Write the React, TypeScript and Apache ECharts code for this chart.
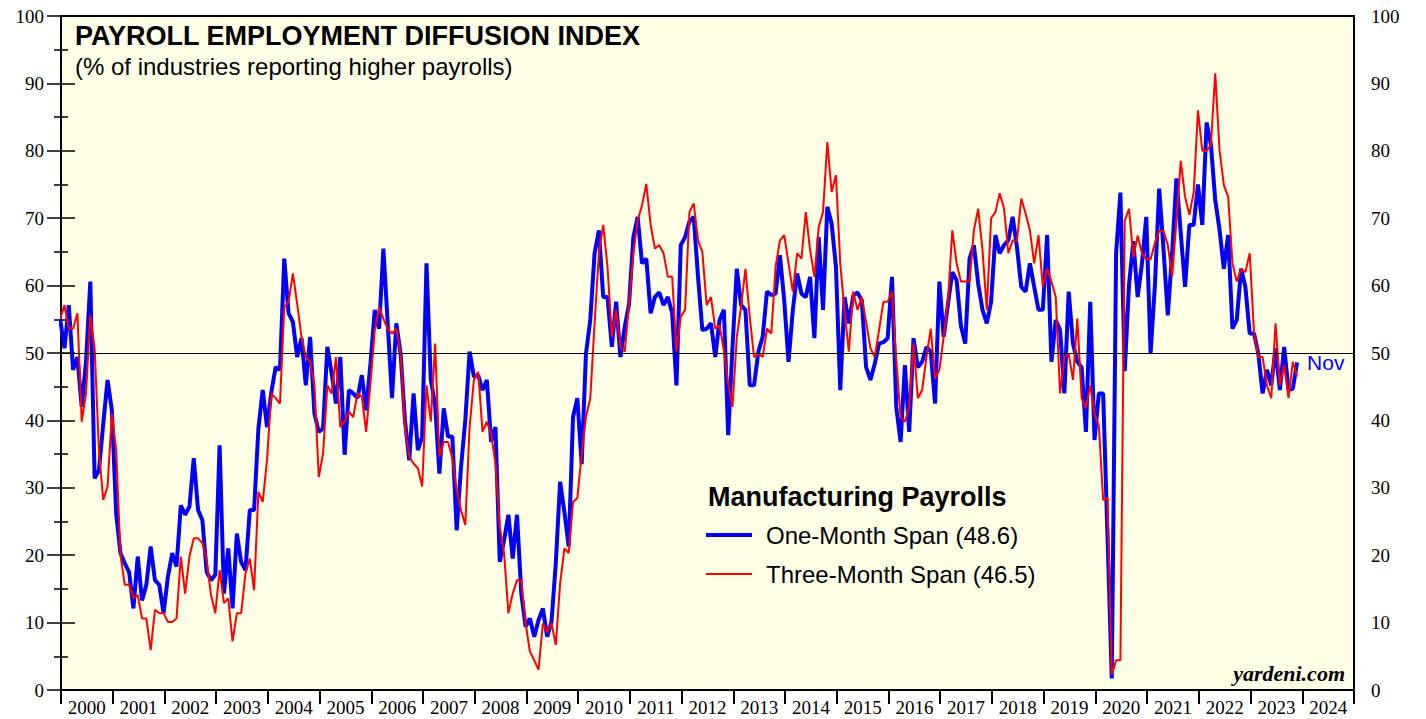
import React, { useEffect, useRef } from 'react';
import * as echarts from 'echarts';

// Monthly values; the first value is Dec 1999, the last is Nov 2023.
const yearLabels = ['2000','2001','2002','2003','2004','2005','2006','2007','2008','2009','2010','2011','2012','2013','2014','2015','2016','2017','2018','2019','2020','2021','2022','2023','2024'];
const yTicks = [0, 10, 20, 30, 40, 50, 60, 70, 80, 90, 100];

const oneMonthSpan: number[] = [
  55.0,
  50.7, 57.1, 47.5, 49.4, 42.0, 48.7, 60.6, 31.4, 32.6, 39.5, 46.0, 41.5,
  26.2, 20.3, 18.8, 17.5, 12.1, 19.8, 13.3, 15.6, 21.3, 16.3, 15.6, 11.4,
  16.8, 20.3, 18.3, 27.4, 26.0, 27.2, 34.4, 26.7, 25.2, 17.5, 16.3, 17.1,
  36.3, 14.3, 21.0, 12.1, 23.2, 19.0, 17.8, 26.7, 26.7, 38.8, 44.5, 39.0,
  44.2, 47.9, 47.5, 64.0, 55.9, 54.6, 49.4, 52.2, 45.2, 52.4, 41.0, 38.3,
  38.8, 50.9, 47.0, 42.5, 49.4, 34.9, 44.5, 44.0, 43.3, 46.7, 41.5, 48.4,
  56.4, 53.6, 65.5, 54.4, 43.3, 54.4, 49.9, 40.0, 34.1, 44.0, 35.6, 37.6,
  63.3, 46.0, 42.3, 32.1, 41.8, 37.6, 37.6, 23.7, 33.0, 40.0, 50.2, 46.5,
  46.7, 44.5, 46.0, 36.8, 39.0, 19.0, 22.2, 26.0, 19.5, 26.0, 14.3, 9.4,
  10.6, 7.9, 10.4, 12.1, 7.9, 10.1, 18.8, 30.9, 26.4, 21.3, 40.5, 43.3,
  33.5, 49.9, 54.9, 64.8, 68.2, 58.3, 58.3, 50.9, 57.6, 49.4, 53.9, 57.3,
  67.2, 70.2, 63.3, 64.0, 55.9, 58.3, 59.0, 57.1, 58.3, 55.9, 45.2, 66.0,
  67.2, 69.5, 70.2, 61.3, 53.4, 53.6, 54.4, 49.4, 54.9, 56.4, 37.8, 50.9,
  62.5, 57.1, 56.4, 45.2, 45.2, 50.2, 52.4, 59.1, 58.6, 58.8, 64.5, 57.8,
  48.7, 56.4, 61.8, 58.8, 58.3, 61.3, 52.2, 67.2, 56.4, 71.7, 69.2, 62.8,
  44.5, 58.3, 54.4, 58.5, 59.0, 57.8, 47.9, 46.0, 48.4, 51.4, 51.6, 52.2,
  61.3, 42.0, 36.8, 48.2, 38.3, 52.2, 47.9, 48.7, 50.9, 50.2, 42.5, 60.6,
  52.4, 57.3, 62.0, 60.8, 54.0, 51.4, 64.0, 66.0, 60.3, 56.4, 54.4, 57.6,
  67.5, 64.8, 66.0, 66.7, 70.2, 65.7, 59.8, 59.1, 63.3, 59.8, 56.4, 56.4,
  67.5, 48.7, 54.9, 53.4, 44.0, 59.1, 51.4, 48.7, 47.9, 38.3, 57.6, 37.1,
  44.0, 44.0, 23.0, 1.7, 64.8, 73.8, 47.3, 60.1, 66.6, 58.3, 63.3, 70.2,
  49.9, 60.0, 74.4, 65.4, 55.6, 64.8, 75.9, 67.8, 59.8, 69.0, 69.0, 75.0,
  69.0, 84.2, 80.9, 72.7, 68.3, 62.5, 67.5, 53.6, 54.9, 62.5, 59.8, 52.9,
  52.9, 49.9, 44.0, 47.5, 45.2, 50.7, 44.5, 50.9, 44.5, 44.7, 48.6,
];

const threeMonthSpan: number[] = [
  55.1,
  57.1, 53.6, 53.6, 55.9, 39.8, 44.0, 55.6, 50.7, 35.6, 28.2, 30.2, 41.0,
  35.6, 20.0, 15.6, 15.6, 13.6, 14.1, 10.6, 10.6, 5.9, 11.9, 11.4, 11.4,
  10.1, 10.1, 10.6, 19.8, 14.3, 19.8, 22.5, 22.5, 21.8, 19.3, 14.1, 11.4,
  17.8, 12.9, 13.6, 7.2, 11.4, 11.4, 17.3, 19.5, 14.8, 29.4, 27.9, 34.1,
  44.0, 43.3, 42.5, 56.8, 57.6, 61.8, 57.3, 52.4, 49.4, 48.7, 45.2, 31.6,
  35.1, 45.2, 44.0, 49.4, 39.0, 39.8, 41.3, 40.5, 44.0, 43.5, 38.3, 45.5,
  53.4, 56.8, 55.1, 53.6, 52.9, 53.6, 49.9, 39.0, 34.6, 33.6, 32.9, 30.2,
  45.2, 39.8, 51.4, 34.6, 36.8, 36.8, 34.4, 29.7, 26.7, 24.5, 39.0, 46.0,
  47.2, 38.3, 39.8, 38.0, 33.6, 24.2, 20.3, 11.4, 14.3, 16.3, 16.3, 9.9,
  5.7, 4.4, 3.0, 9.9, 8.6, 9.9, 6.7, 15.8, 21.0, 20.3, 27.9, 28.5,
  35.0, 40.5, 43.3, 54.4, 64.8, 69.0, 62.8, 52.4, 56.4, 50.9, 50.2, 57.3,
  64.8, 69.7, 71.9, 75.1, 69.0, 65.5, 66.0, 64.8, 61.3, 61.3, 50.2, 55.4,
  56.4, 70.9, 72.2, 66.7, 65.0, 57.1, 58.3, 53.6, 54.1, 50.4, 45.5, 42.0,
  52.4, 56.9, 62.5, 55.4, 49.4, 49.9, 49.4, 53.6, 52.9, 62.8, 66.7, 67.5,
  63.3, 59.1, 64.8, 64.0, 70.9, 65.3, 61.3, 68.7, 70.9, 81.3, 73.9, 76.4,
  63.3, 56.1, 50.2, 59.1, 56.4, 58.3, 54.6, 50.7, 49.4, 53.4, 57.6, 57.6,
  59.1, 48.9, 40.5, 39.8, 42.0, 51.4, 43.3, 44.5, 49.4, 53.6, 46.2, 47.5,
  52.4, 57.8, 68.2, 63.3, 60.6, 60.6, 60.6, 68.2, 71.4, 65.3, 56.4, 70.0,
  70.9, 73.7, 71.4, 64.8, 66.7, 66.7, 72.9, 70.7, 68.2, 63.3, 67.5, 59.8,
  62.5, 60.6, 58.3, 44.0, 49.4, 49.9, 46.0, 55.1, 43.3, 41.8, 45.2, 41.0,
  39.2, 28.2, 28.5, 2.3, 4.4, 4.4, 69.6, 71.4, 64.2, 67.4, 64.8, 63.9,
  63.9, 66.3, 68.1, 68.1, 66.0, 61.3, 69.6, 78.5, 73.2, 70.5, 73.8, 86.0,
  80.0, 80.0, 80.9, 91.5, 80.1, 74.9, 73.2, 63.3, 60.6, 62.5, 62.0, 64.8,
  53.0, 49.4, 49.4, 45.2, 43.3, 54.4, 45.2, 48.2, 43.3, 48.7, 46.5,
];

const lastMonthLabel = 'Nov';
const oneMonthName = 'One-Month Span (48.6)';
const threeMonthName = 'Three-Month Span (46.5)';

export default function App() {
  const ref = useRef<HTMLDivElement>(null);

  useEffect(() => {
    const chart = echarts.init(ref.current!, null, { renderer: 'svg' });
    // month position on axis (0 = start of Jan 2000); first value is Dec 1999
    const toPoints = (arr: number[]) => arr.map((v, i) => [i - 1 + 0.8, v]);
    const serif = 'Liberation Serif';
    const sans = 'Liberation Sans';

    const yAxisBase = {
      type: 'value',
      min: 0,
      max: 100,
      interval: 10,
      splitLine: { show: false },
      axisLine: { show: true, lineStyle: { color: '#000', width: 2 } },
      axisTick: { show: true, length: 14, lineStyle: { color: '#000', width: 1.5 } },
      minorTick: { show: true, splitNumber: 2, length: 7, lineStyle: { color: '#000', width: 1.5 } },
      axisLabel: {
        color: '#000', fontFamily: serif, fontSize: 19, margin: 17,
        formatter: (v: number) => (yTicks.includes(v) ? String(v) : ''),
      },
    };

    const txt = (x: number, y: number, text: string, font: string, fill = '#000', align = 'left') => ({
      type: 'text', x, y,
      style: { text, fill, font, align, verticalAlign: 'middle' },
    });

    chart.setOption({
      animation: false,
      backgroundColor: '#ffffff',
      grid: {
        left: 61, top: 16, width: 1293, height: 674,
        show: true, backgroundColor: '#FFFFE6', borderColor: '#000', borderWidth: 2,
      },
      xAxis: [
        {
          type: 'value', min: 0, max: 300, interval: 12,
          axisLine: { show: true, onZero: false, lineStyle: { color: '#000', width: 2 } },
          axisTick: { show: true, length: 14, lineStyle: { color: '#000', width: 2 } },
          axisLabel: { show: false },
          splitLine: { show: false },
        },
        {
          type: 'value', min: 0, max: 300, interval: 6, position: 'bottom',
          axisLine: { show: false }, axisTick: { show: false }, splitLine: { show: false },
          axisLabel: {
            color: '#000', fontFamily: serif, fontSize: 19, margin: 8,
            formatter: (v: number) => (v % 12 === 6 ? yearLabels[(v - 6) / 12] : ''),
          },
        },
      ],
      yAxis: [
        { ...yAxisBase, position: 'left' },
        { ...yAxisBase, position: 'right' },
      ],
      series: [
        {
          name: oneMonthName,
          type: 'line',
          data: toPoints(oneMonthSpan),
          showSymbol: false,
          clip: true,
          lineStyle: { color: '#0000FF', width: 4 },
          itemStyle: { color: '#0000FF' },
          endLabel: {
            show: true, formatter: lastMonthLabel, color: '#0000FF',
            fontFamily: sans, fontSize: 21, distance: 10,
          },
          markLine: {
            silent: true, symbol: 'none', label: { show: false },
            lineStyle: { color: '#000', width: 1, type: 'solid' },
            data: [{ yAxis: 50 }],
          },
          z: 3,
        },
        {
          name: threeMonthName,
          type: 'line',
          data: toPoints(threeMonthSpan),
          showSymbol: false,
          clip: true,
          lineStyle: { color: '#FF0000', width: 2 },
          itemStyle: { color: '#FF0000' },
          z: 4,
        },
      ],
      graphic: [
        txt(75, 36, 'PAYROLL EMPLOYMENT DIFFUSION INDEX', `bold 27px "${sans}"`),
        txt(75, 66, '(% of industries reporting higher payrolls)', `24px "${sans}"`),
        txt(708, 497, 'Manufacturing Payrolls', `bold 27px "${sans}"`),
        { type: 'line', shape: { x1: 706, y1: 535, x2: 752, y2: 535 }, style: { stroke: '#0000FF', lineWidth: 4 } },
        txt(766, 535, oneMonthName, `24px "${sans}"`),
        { type: 'line', shape: { x1: 706, y1: 574, x2: 752, y2: 574 }, style: { stroke: '#FF0000', lineWidth: 2 } },
        txt(766, 574, threeMonthName, `24px "${sans}"`),
        txt(1345, 673, 'yardeni.com', `italic bold 22px "${serif}"`, '#000', 'right'),
      ],
    });

    return () => chart.dispose();
  }, []);

  return <div ref={ref} style={{ position: 'fixed', left: 0, top: 0, width: 1426, height: 719 }} />;
}
